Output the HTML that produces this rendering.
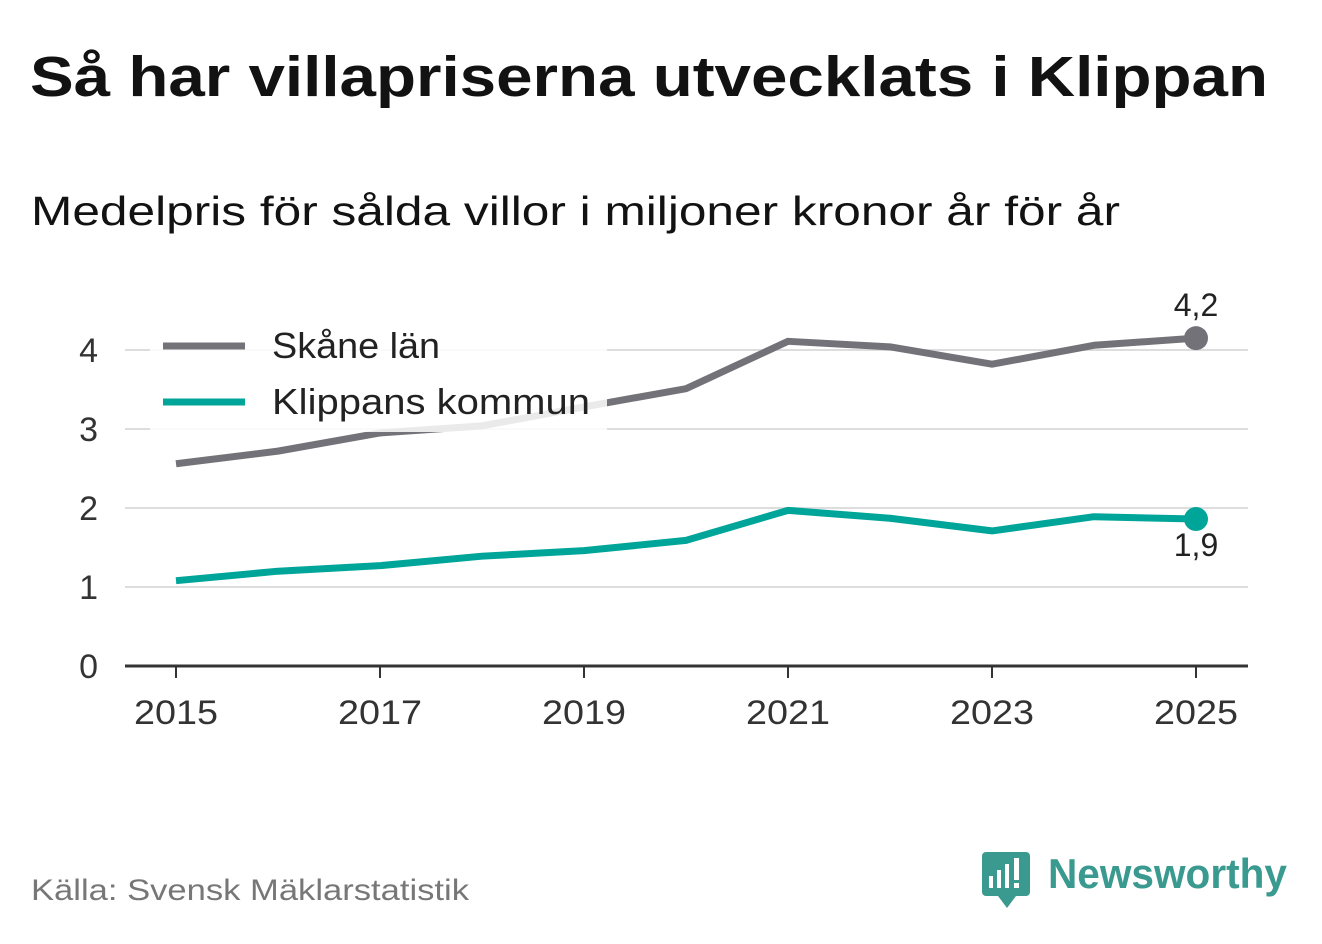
<!DOCTYPE html>
<html><head><meta charset="utf-8"><style>
body{margin:0;width:1322px;height:939px;background:#fff;overflow:hidden;font-family:"Liberation Sans",sans-serif;}
svg text{font-family:"Liberation Sans",sans-serif;}
</style></head><body>
<svg id="chart" width="1322" height="939">
<text x="30" y="96" font-size="57" font-weight="bold" fill="#121212" textLength="1238" lengthAdjust="spacingAndGlyphs">Så har villapriserna utvecklats i Klippan</text>
<text x="31" y="225" font-size="41" fill="#121212" textLength="1089" lengthAdjust="spacingAndGlyphs">Medelpris för sålda villor i miljoner kronor år för år</text>
<g id="grid"></g><g id="series"></g><g id="legend"></g><g id="axes"></g>
<text x="31" y="900" font-size="30" fill="#777" textLength="438" lengthAdjust="spacingAndGlyphs">Källa: Svensk Mäklarstatistik</text>
<g>
<rect x="982" y="852" width="48" height="44" rx="4" fill="#3a9a8f"/>
<polygon points="998,896 1016,896 1007,908" fill="#3a9a8f"/>
<rect x="989" y="876" width="4" height="12" fill="#fff"/><rect x="997" y="870" width="4" height="18" fill="#fff"/><rect x="1005" y="864" width="4" height="24" fill="#fff"/><rect x="1014" y="858" width="5" height="22" fill="#fff"/><rect x="1014" y="883" width="5" height="5" fill="#fff"/>
<text x="1048" y="888" font-size="42" font-weight="bold" fill="#3a9a8f" textLength="239" lengthAdjust="spacingAndGlyphs">Newsworthy</text>
</g>
</svg>
<script>
const years=[2015,2016,2017,2018,2019,2020,2021,2022,2023,2024,2025];
const skane=[2.56,2.72,2.95,3.04,3.28,3.51,4.11,4.04,3.82,4.06,4.15];
const klippan=[1.08,1.20,1.27,1.39,1.46,1.59,1.97,1.87,1.71,1.89,1.86];
const yTicks=[0,1,2,3,4];
const xTicks=[2015,2017,2019,2021,2023,2025];
const NS="http://www.w3.org/2000/svg";
const x=v=>176+(v-2015)*102;
const y=v=>666-v*79;
function mk(tag,attrs,parent){const e=document.createElementNS(NS,tag);for(const k in attrs)e.setAttribute(k,attrs[k]);document.getElementById(parent).appendChild(e);return e;}
yTicks.forEach(t=>{
 if(t>0){const l=mk('line',{x1:125,x2:1248,y1:y(t),y2:y(t),stroke:'#ddd','stroke-width':2},'grid');
 
 }
 const tx=mk('text',{x:98,y:y(t)+12,'font-size':34,fill:'#333','text-anchor':'end'},'axes');tx.textContent=t;
 
 
});
const ax=mk('line',{x1:125,x2:1248,y1:666,y2:666,stroke:'#333','stroke-width':3},'axes');


xTicks.forEach(t=>{
 mk('line',{x1:x(t),x2:x(t),y1:666,y2:678,stroke:'#333','stroke-width':2},'axes');
 const tx=mk('text',{x:x(t),y:724,'font-size':34,fill:'#333','text-anchor':'middle',textLength:84,lengthAdjust:'spacingAndGlyphs'},'axes');tx.textContent=t;
 
 
});
function series(vals,color,name,labelDy){
 const p=mk('polyline',{points:vals.map((v,i)=>x(years[i])+','+y(v)).join(' '),fill:'none',stroke:color,'stroke-width':7,'stroke-linejoin':'round'},'series');
 
 
 const n=vals.length-1;
 const c=mk('circle',{cx:x(years[n]),cy:y(vals[n]),r:12,fill:color},'series');
 
 
 const t=mk('text',{x:x(years[n]),y:y(vals[n])+labelDy,'font-size':32,fill:'#222','text-anchor':'middle'},'series');
 t.textContent=vals[n].toFixed(1).replace('.',',');
 
 
}
series(skane,'#737279','skane',-22);
series(klippan,'#00a59a','klippan',37);
const bg=mk('rect',{x:150,y:322,width:457,height:110,fill:'#fff','fill-opacity':0.85},'legend');


[['Skåne län','#737279',346,168],['Klippans kommun','#00a59a',402,318]].forEach(([lab,col,yy,w])=>{
 const l=mk('line',{x1:163,x2:245,y1:yy,y2:yy,stroke:col,'stroke-width':7},'legend');
 
 
 const t=mk('text',{x:272,y:yy+12,'font-size':36,fill:'#222',textLength:w,lengthAdjust:'spacingAndGlyphs'},'legend');t.textContent=lab;
 
 
});
</script>
</body></html>
